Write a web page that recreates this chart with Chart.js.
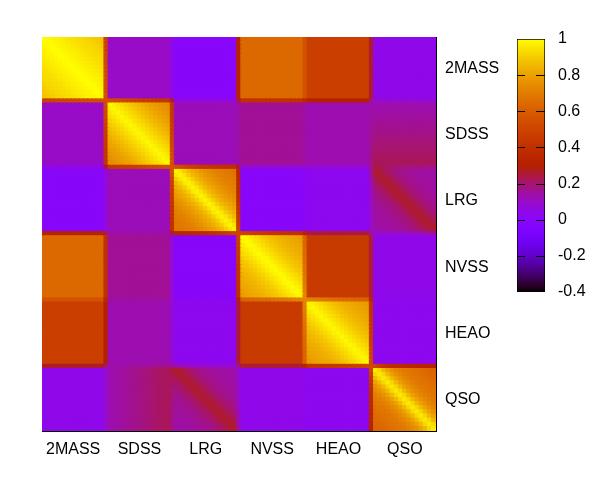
<!DOCTYPE html>
<html>
<head>
<meta charset="utf-8">
<script src="https://cdn.jsdelivr.net/npm/chart.js@4/dist/chart.umd.min.js"></script>
<style>
  html, body { margin: 0; padding: 0; background: #fff; }
  #wrap { position: relative; width: 598px; height: 494px; }
  #wrap canvas { position: absolute; left: 0; top: 0; }
</style>
</head>
<body>
<div id="wrap">
  <canvas id="matrix" width="598" height="494"></canvas>
  <canvas id="colorbar" width="598" height="494"></canvas>
</div>
<script>
const catalogues = ['2MASS', 'SDSS', 'LRG', 'NVSS', 'HEAO', 'QSO'];
const binsPerCatalogue = 16;

// correlation between two bins of the same catalogue, by bin separation 0..15
const auto2MASS = [1.00, 0.99, 0.98, 0.975, 0.97, 0.96, 0.95, 0.94, 0.935, 0.93, 0.92, 0.91, 0.90, 0.89, 0.88, 0.87];
const autoSDSS  = [1.00, 0.97, 0.95, 0.93, 0.91, 0.89, 0.87, 0.85, 0.83, 0.81, 0.80, 0.78, 0.77, 0.76, 0.75, 0.74];
const autoLRG   = [1.00, 0.95, 0.90, 0.86, 0.83, 0.80, 0.78, 0.76, 0.74, 0.72, 0.71, 0.70, 0.69, 0.68, 0.67, 0.66];
const autoNVSS  = [1.00, 0.98, 0.96, 0.94, 0.92, 0.90, 0.88, 0.87, 0.85, 0.84, 0.83, 0.82, 0.81, 0.80, 0.79, 0.78];
const autoHEAO  = [1.00, 0.97, 0.95, 0.93, 0.91, 0.89, 0.87, 0.86, 0.84, 0.83, 0.82, 0.81, 0.80, 0.79, 0.78, 0.77];
const autoQSO   = [1.00, 0.92, 0.85, 0.80, 0.76, 0.73, 0.71, 0.69, 0.68, 0.67, 0.66, 0.65, 0.64, 0.63, 0.62, 0.61];
const autoProfiles = [auto2MASS, autoSDSS, autoLRG, autoNVSS, autoHEAO, autoQSO];

// cross-catalogue correlation level of each off-diagonal block
const crossLevels = [
  [1.00, 0.10, 0.00, 0.64, 0.48, 0.04],
  [0.10, 1.00, 0.12, 0.16, 0.13, 0.18],
  [0.00, 0.12, 1.00, 0.00, 0.03, 0.16],
  [0.64, 0.16, 0.00, 1.00, 0.46, 0.04],
  [0.48, 0.13, 0.03, 0.46, 1.00, 0.03],
  [0.04, 0.18, 0.16, 0.04, 0.03, 1.00]
];
// LRG x QSO shows a diagonal stripe (by bin separation)
const crossLRGQSO = [0.27, 0.25, 0.23, 0.21, 0.19, 0.18, 0.17, 0.16, 0.16, 0.15, 0.15, 0.15, 0.14, 0.14, 0.14, 0.14];
// SDSS x QSO grows with the SDSS bin
const crossSDSSQSO = [0.13, 0.13, 0.14, 0.15, 0.15, 0.16, 0.17, 0.17, 0.18, 0.19, 0.19, 0.20, 0.21, 0.21, 0.22, 0.22];

// colour box
const cbMin = -0.4;
const cbMax = 1;
const cbTicks = [1, 0.8, 0.6, 0.4, 0.2, 0, -0.2, -0.4];
const cbTickLabels = ['1', '0.8', '0.6', '0.4', '0.2', '0', '-0.2', '-0.4'];

const FONT = { family: '"Liberation Sans", Arial, Helvetica, sans-serif', size: 16 };

// gnuplot default pm3d palette (rgbformulae 7,5,15)
function paletteColor(v) {
  const t = Math.min(1, Math.max(0, (v - cbMin) / (cbMax - cbMin)));
  const r = Math.sqrt(t);
  const g = t * t * t;
  const b = Math.max(0, Math.sin(2 * Math.PI * t));
  return `rgb(${Math.round(r * 255)},${Math.round(g * 255)},${Math.round(b * 255)})`;
}

function pointValue(p, q) {
  const i = Math.floor(p / binsPerCatalogue), k = p % binsPerCatalogue;
  const j = Math.floor(q / binsPerCatalogue), l = q % binsPerCatalogue;
  if (i === j) return autoProfiles[i][Math.abs(k - l)];
  const pair = catalogues[Math.min(i, j)] + '|' + catalogues[Math.max(i, j)];
  if (pair === 'LRG|QSO') return crossLRGQSO[Math.abs(k - l)];
  if (pair === 'SDSS|QSO') return crossSDSSQSO[i < j ? k : l];
  return crossLevels[i][j];
}

// pm3d style: every quad takes the mean of its four corners
const nPoints = catalogues.length * binsPerCatalogue;
const nCells = nPoints - 1;
const cells = [];
for (let a = 0; a < nCells; a++) {
  for (let b = 0; b < nCells; b++) {
    const v = (pointValue(a, b) + pointValue(a + 1, b) + pointValue(a, b + 1) + pointValue(a + 1, b + 1)) / 4;
    cells.push({ x: b + 0.5, y: a + 0.5, v: v });
  }
}
const blockCentres = catalogues.map((c, i) => i * binsPerCatalogue + (binsPerCatalogue - 1) / 2);

// rect side = radius * sqrt(2); overlap neighbours a bit so no seams show
function cellRadius(ctx) {
  const s = ctx.chart.scales.x;
  return (s.getPixelForValue(1) - s.getPixelForValue(0) + 1.6) / Math.SQRT2;
}

const catTicks = {
  autoSkip: false, maxRotation: 0, color: '#000', font: FONT, padding: 9,
  callback: (v, i) => catalogues[i]
};

new Chart(document.getElementById('matrix'), {
  type: 'scatter',
  data: {
    datasets: [{
      data: cells,
      pointStyle: 'rect',
      pointRadius: cellRadius,
      pointHoverRadius: cellRadius,
      borderWidth: 0,
      backgroundColor: ctx => ctx.raw ? paletteColor(ctx.raw.v) : '#000',
      clip: 0
    }]
  },
  options: {
    responsive: false,
    animation: false,
    events: [],
    layout: { padding: { left: 42, top: 37, right: 0, bottom: 0 } },
    plugins: { legend: { display: false }, tooltip: { enabled: false } },
    scales: {
      x: {
        type: 'linear', position: 'bottom', min: 0, max: nCells,
        grid: { display: false, drawTicks: false },
        border: { display: true, color: '#000', width: 1 },
        afterBuildTicks: s => { s.ticks = blockCentres.map(v => ({ value: v })); },
        ticks: catTicks,
        afterFit: s => { s.height = 63; }
      },
      y: {
        type: 'linear', position: 'right', reverse: true, min: 0, max: nCells,
        grid: { display: false, drawTicks: false },
        border: { display: true, color: '#000', width: 1 },
        afterBuildTicks: s => { s.ticks = blockCentres.map(v => ({ value: v })); },
        ticks: catTicks,
        afterFit: s => { s.width = 162; }
      },
      xTop: {
        type: 'linear', position: 'top', min: 0, max: 1,
        grid: { display: false, drawTicks: false },
        border: { display: true, color: '#000', width: 1 },
        ticks: { display: false },
        afterFit: s => { s.height = 0; }
      },
      yLeft: {
        type: 'linear', position: 'left', min: 0, max: 1,
        grid: { display: false, drawTicks: false },
        border: { display: true, color: '#000', width: 1 },
        ticks: { display: false },
        afterFit: s => { s.width = 0; }
      }
    }
  }
});

function barGradient(ctx) {
  const area = ctx.chart.chartArea;
  if (!area) return null;
  const g = ctx.chart.ctx.createLinearGradient(0, area.bottom, 0, area.top);
  const steps = 60;
  for (let s = 0; s <= steps; s++) {
    g.addColorStop(s / steps, paletteColor(cbMin + (cbMax - cbMin) * s / steps));
  }
  return g;
}

// short inward tick marks on both sides of the colour box
const innerTicks = {
  id: 'innerTicks',
  afterDatasetsDraw(chart) {
    const { ctx, chartArea } = chart;
    const y = chart.scales.y;
    ctx.save();
    ctx.strokeStyle = '#000';
    ctx.lineWidth = 1;
    ctx.beginPath();
    cbTicks.slice(1, -1).forEach(v => {
      const py = Math.round(y.getPixelForValue(v)) + 0.5;
      ctx.moveTo(chartArea.left, py);
      ctx.lineTo(chartArea.left + 8, py);
      ctx.moveTo(chartArea.right - 9, py);
      ctx.lineTo(chartArea.right, py);
    });
    ctx.stroke();
    ctx.restore();
  }
};

new Chart(document.getElementById('colorbar'), {
  type: 'bar',
  data: {
    labels: [''],
    datasets: [{
      data: [[cbMin, cbMax]],
      backgroundColor: barGradient,
      borderColor: '#000',
      borderWidth: 1,
      borderSkipped: false,
      barPercentage: 1,
      categoryPercentage: 1
    }]
  },
  plugins: [innerTicks],
  options: {
    responsive: false,
    animation: false,
    events: [],
    layout: { padding: { left: 517, top: 39, right: 0, bottom: 202 } },
    plugins: { legend: { display: false }, tooltip: { enabled: false } },
    scales: {
      x: { display: false },
      y: {
        position: 'right', min: cbMin, max: cbMax,
        grid: { display: false, drawTicks: false },
        border: { display: false },
        afterBuildTicks: s => { s.ticks = cbTicks.map(v => ({ value: v })); },
        ticks: { color: '#000', font: FONT, padding: 13, callback: (v, i) => cbTickLabels[i] },
        afterFit: s => { s.width = 53; }
      }
    }
  }
});
</script>
</body>
</html>
